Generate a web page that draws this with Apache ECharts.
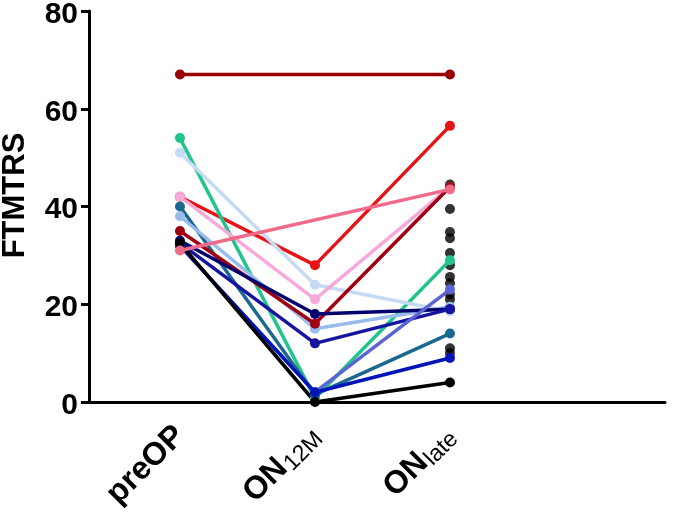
<!DOCTYPE html>
<html>
<head>
<meta charset="utf-8">
<script src="https://cdn.jsdelivr.net/npm/echarts@6/dist/echarts.min.js"></script>
<style>html,body{margin:0;padding:0;background:#fff}#c{width:677px;height:513px}</style>
</head>
<body>
<div id="c"></div>
<script>
const categories = ['preOP', 'ON12M', 'ONlate'];
const yTicks = [0, 20, 40, 60, 80];
// per-subject values (null = missing)
const preOP  = [67, 42, 54, 51, 42, 40, 38, 35, 33, 32.5, 32, 32, 32.5, 31];
const on12M  = [null, 28, 0.8, 24, 21, 1.5, 15, 16, 18, 12, 2, 2, 0, null];
const onLate = [67, 56.5, 29, 18.5, 44, 14, 19.5, 44, 19, 19, 23, 9, 4, 43.5];
const lateOnly = [44.5, 39.5, 34.8, 33.5, 30.5, 28, 25.6, 24.3, 22, 21, 11, 10];
const colors = ['#990000', '#e41414', '#22c48e', '#c6daf4', '#f7a9d9', '#1a6890',
                '#98bcee', '#a00012', '#00006e', '#1414a0', '#5a64d4', '#0014b8', '#000000', '#f06a8a'];

const series = [{
  type: 'scatter',
  data: lateOnly.map(v => [3, v]),
  symbolSize: 10,
  itemStyle: {color: '#000'},
  clip: false
}];
preOP.forEach((p, i) => {
  series.push({
    type: 'line',
    data: [[1, p], [2, on12M[i]], [3, onLate[i]]],
    connectNulls: true,
    symbol: 'circle',
    symbolSize: 10,
    lineStyle: {width: 3.5, color: colors[i]},
    itemStyle: {color: colors[i]},
    clip: false,
    animation: false
  });
});

const chart = echarts.init(document.getElementById('c'));
chart.setOption({
  animation: false,
  grid: {left: 89, right: 12, top: 11, bottom: 111, containLabel: false, outerBoundsMode: 'none'},
  xAxis: {
    type: 'value',
    min: 0.326,
    max: 4.593,
    splitLine: {show: false},
    axisLine: {show: true, onZero: false, lineStyle: {color: '#000', width: 3}},
    axisTick: {show: false},
    axisLabel: {
      customValues: [1, 2, 3],
      rotate: 45,
      margin: 29,
      formatter: v => {
        const n = categories[v - 1];
        if (n === 'preOP') return '{b|preOP}';
        if (n === 'ON12M') return '{b|ON}{s|12M}';
        return '{b|ON}{s|late}';
      },
      rich: {
        b: {fontFamily: 'Liberation Sans, Arial', fontWeight: 'bold', fontSize: 32, color: '#000'},
        s: {fontFamily: 'Liberation Sans, Arial', fontWeight: 'normal', fontSize: 23, color: '#000', verticalAlign: 'bottom', padding: [0, 0, -2, 1]}
      }
    }
  },
  yAxis: {
    type: 'value',
    min: 0,
    max: 80,
    interval: 20,
    name: 'FTMTRS',
    nameLocation: 'middle',
    nameGap: 58,
    nameTextStyle: {fontFamily: 'Liberation Sans, Arial', fontWeight: 'bold', fontSize: 31, color: '#000', padding: [0, 0, 0, 22]},
    splitLine: {show: false},
    axisLine: {show: true, lineStyle: {color: '#000', width: 3}},
    axisTick: {show: true, length: 8, lineStyle: {color: '#000', width: 3}},
    axisLabel: {
      customValues: yTicks,
      margin: 11,
      formatter: v => '{n|' + v + '}',
      rich: {
        n: {fontFamily: 'Liberation Sans, Arial', fontWeight: 'bold', fontSize: 30, color: '#000', padding: [7, 0, 0, 0]}
      }
    }
  },
  series: series
});
</script>
</body>
</html>
